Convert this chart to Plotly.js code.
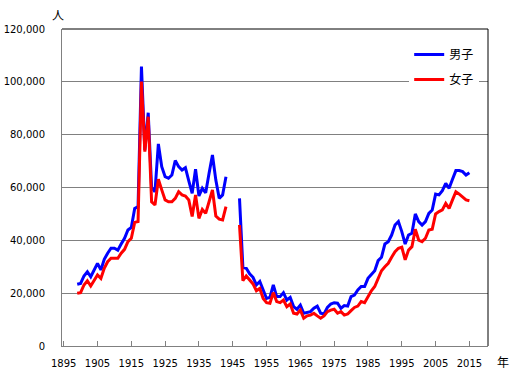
<!DOCTYPE html>
<html>
<head>
<meta charset="utf-8">
<script src="https://cdn.plot.ly/plotly-3.0.1.min.js"></script>
<style>html,body{margin:0;padding:0;background:#fff;}#chart{width:512px;height:382px;}</style>
</head>
<body>
<div id="chart"></div>
<script>
const years = [];
for (let y = 1899; y <= 2015; y++) years.push(y);

const male = [
23350,23700,26500,28100,26200,28800,31300,28800,32800,35100,
37000,37000,36300,38600,40800,43900,44900,52100,52800,105800,
74200,88300,60000,58400,76500,67900,64100,63500,64700,70200,
67900,66600,67500,62500,57800,66900,56800,59700,58000,65400,
72300,62800,55900,57200,64100,null,null,null,55900,29800,
29400,27300,26000,23100,24400,20900,18000,18400,23100,18700,
18700,20200,17400,18400,14900,13900,15500,12400,12600,13000,
14300,15100,12400,12100,14600,15900,16400,16200,14300,15300,
15100,18700,19300,21200,22500,22500,25600,26900,28500,32300,
33600,38600,39500,42000,45800,47100,43300,38600,42000,42700,
50000,47100,45800,47100,50200,51500,57500,57200,58800,61600,
59700,63100,66400,66400,66000,64700,65600
];

const female = [
19940,20200,23100,24700,22700,25000,26900,25600,29400,31900,
33200,33200,33200,35100,36600,39500,40800,46800,47100,100100,
73600,86800,54600,53400,63100,59100,55300,54600,54600,55900,
58400,57200,56800,55300,49000,57200,48300,51700,50200,54600,
59100,49200,48000,47700,52800,null,null,null,45800,24700,
26500,25200,23500,20900,21800,18000,16400,16200,20200,16800,
16400,17400,14900,15900,12400,12100,13600,10500,11400,11700,
12400,11400,10500,11400,13000,13600,13900,12400,13000,11700,
12100,13400,14600,15100,16800,16400,18900,20900,22500,25600,
28500,30000,31300,33600,35700,37000,37400,32600,36300,37600,
44200,40100,39500,40800,43900,44200,50000,50900,51500,54000,
52100,55300,58400,57500,56500,55300,55000
];

const seriesNames = ['男子', '女子'];
const xTickVals = [1895,1905,1915,1925,1935,1945,1955,1965,1975,1985,1995,2005,2015];
const yTickVals = [0,20000,40000,60000,80000,100000,120000];
const yTickText = ['0','20,000','40,000','60,000','80,000','100,000','120,000'];

const FONT = 'DejaVu Sans, "Noto Sans CJK JP", sans-serif';

const traces = [
  {x: years, y: male, name: seriesNames[0], type: 'scatter', mode: 'lines',
   line: {color: '#0000FF', width: 3}, connectgaps: false, legendgroup: 'm'},
  {x: years, y: female, name: seriesNames[1], type: 'scatter', mode: 'lines',
   line: {color: '#FF0000', width: 3}, connectgaps: false, legendgroup: 'f'}
];

const layout = {
  width: 512, height: 382,
  margin: {l: 62, r: 24, t: 29, b: 36, pad: 0},
  paper_bgcolor: '#ffffff', plot_bgcolor: '#ffffff',
  font: {family: FONT, size: 10, color: '#000'},
  showlegend: true,
  legend: {x: 0.815, y: 0.965, xanchor: 'left', yanchor: 'top',
    bgcolor: '#ffffff', borderwidth: 0, font: {family: '"Noto Sans CJK JP", sans-serif', size: 12},
    traceorder: 'grouped', tracegroupgap: 6, itemwidth: 30},
  xaxis: {range: [1894.5, 2020.5], tickvals: xTickVals, ticktext: xTickVals.map(String),
    ticks: 'inside', ticklen: 5, tickcolor: '#808080', tickwidth: 1,
    showline: true, linecolor: '#808080', linewidth: 1, showgrid: false, zeroline: false,
    ticklabelstandoff: 8, tickfont: {family: FONT, size: 10}},
  yaxis: {range: [0, 120000], tickvals: yTickVals, ticktext: yTickText,
    showline: true, linecolor: '#808080', linewidth: 1,
    showgrid: true, gridcolor: '#808080', gridwidth: 1, zeroline: false,
    ticks: '', ticklabelstandoff: 14, tickfont: {family: FONT, size: 10}},
  shapes: [
    {type: 'line', xref: 'paper', yref: 'paper', x0: 0, x1: 1, y0: 1, y1: 1, line: {color: '#000', width: 1}},
    {type: 'line', xref: 'paper', yref: 'paper', x0: 1, x1: 1, y0: 0, y1: 1, line: {color: '#000', width: 1}}
  ],
  annotations: [
    {text: '人', xref: 'paper', yref: 'paper', x: -0.01, y: 1.045, xanchor: 'center', yanchor: 'middle',
     showarrow: false, font: {family: '"Noto Sans CJK JP", sans-serif', size: 12}},
    {text: '年', xref: 'paper', yref: 'paper', x: 1.035, y: -0.05, xanchor: 'center', yanchor: 'middle',
     showarrow: false, font: {family: '"Noto Sans CJK JP", sans-serif', size: 12}}
  ]
};

Plotly.newPlot('chart', traces, layout, {staticPlot: true, displayModeBar: false});
</script>
</body>
</html>
